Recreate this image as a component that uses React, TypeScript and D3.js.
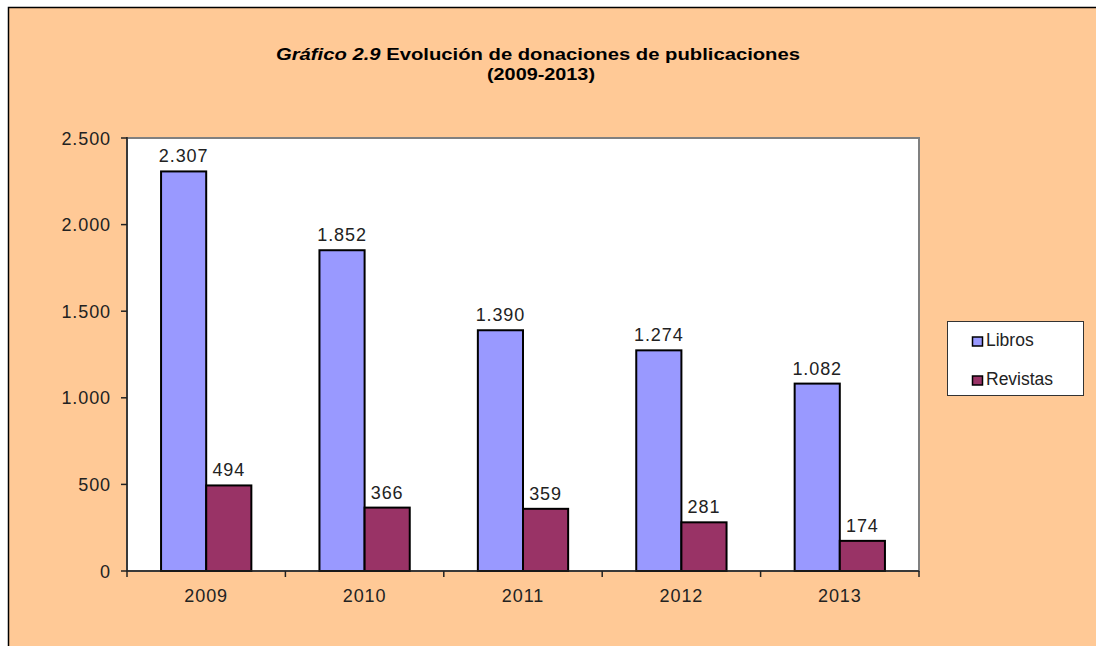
import React from "react";
import * as d3 from "d3";

const categories = ["2009", "2010", "2011", "2012", "2013"];
const libros = [2307, 1852, 1390, 1274, 1082];
const revistas = [494, 366, 359, 281, 174];
const yTicks = [0, 500, 1000, 1500, 2000, 2500];
const seriesNames = ["Libros", "Revistas"];
const seriesColors = ["#9999FF", "#993366"];

const fmt = (v: number) => {
  const s = String(v);
  return s.replace(/\B(?=(\d{3})+(?!\d))/g, ".");
};

export default function App() {
  const W = 1096, H = 646;
  const left = 127, right = 919, top = 138, bottom = 571;
  const x = d3.scaleBand().domain(categories).range([left, right]).paddingInner(0).paddingOuter(0);
  const y = d3.scaleLinear().domain([0, 2500]).range([bottom, top]);
  const bw = x.bandwidth();
  const barW = bw * 0.285;
  const groupOff = (bw - 2 * barW) / 2;
  const series = [libros, revistas];
  const font = "'Liberation Sans', Arial, sans-serif";
  const ls = 0.9;

  return (
    <svg width={W} height={H} style={{ position: "absolute", left: 0, top: 0 }} fontFamily={font}>
      <rect x={0} y={0} width={W} height={H} fill="#ffffff" />
      <rect x={8.5} y={7.5} width={W} height={H} fill="#FFC996" stroke="#000" strokeWidth={1.5} />
      <text x={538} y={60} textAnchor="middle" fontSize={17} fontWeight="bold" fill="#000"
        textLength={524} lengthAdjust="spacingAndGlyphs">
        <tspan fontStyle="italic">Gráfico 2.9</tspan> Evolución de donaciones de publicaciones
      </text>
      <text x={541} y={80} textAnchor="middle" fontSize={17} fontWeight="bold" fill="#000"
        textLength={108} lengthAdjust="spacingAndGlyphs">(2009-2013)</text>

      <rect x={left} y={top} width={right - left} height={bottom - top} fill="#fff" stroke="#808080" strokeWidth={2} />

      {series.map((vals, si) =>
        vals.map((v, i) => {
          const bx = (x(categories[i]) as number) + groupOff + si * barW;
          return (
            <g key={`${si}-${i}`}>
              <rect x={bx} y={y(v)} width={barW} height={bottom - y(v)} fill={seriesColors[si]} stroke="#000" strokeWidth={2} />
              <text x={bx + barW / 2} y={y(v) - 9} textAnchor="middle" fontSize={18} letterSpacing={ls} fill="#222">{fmt(v)}</text>
            </g>
          );
        })
      )}

      <line x1={left} y1={top - 1} x2={left} y2={bottom} stroke="#222" strokeWidth={1.5} />
      <line x1={left} y1={bottom} x2={right} y2={bottom} stroke="#222" strokeWidth={1.5} />
      {yTicks.map((t) => (
        <g key={t}>
          <line x1={left - 6} y1={y(t)} x2={left} y2={y(t)} stroke="#222" strokeWidth={1.5} />
          <text x={111} y={y(t) + 6.5} textAnchor="end" fontSize={18} letterSpacing={ls} fill="#222">{fmt(t)}</text>
        </g>
      ))}
      {categories.map((c, i) => (
        <g key={c}>
          <line x1={(x(c) as number)} y1={bottom} x2={(x(c) as number)} y2={bottom + 6} stroke="#222" strokeWidth={1.5} />
          <text x={(x(c) as number) + bw / 2} y={bottom + 31} textAnchor="middle" fontSize={18} letterSpacing={ls} fill="#222">{c}</text>
        </g>
      ))}
      <line x1={right} y1={bottom} x2={right} y2={bottom + 6} stroke="#222" strokeWidth={1.5} />

      <rect x={947.5} y={321.5} width={136} height={74} fill="#fff" stroke="#333" strokeWidth={1} />
      {seriesNames.map((n, i) => (
        <g key={n}>
          <rect x={972.5} y={337 + i * 39} width={10} height={9} fill={seriesColors[i]} stroke="#000" strokeWidth={1.5} />
          <text x={986} y={346 + i * 39} fontSize={17.5} fill="#222">{n}</text>
        </g>
      ))}
    </svg>
  );
}
